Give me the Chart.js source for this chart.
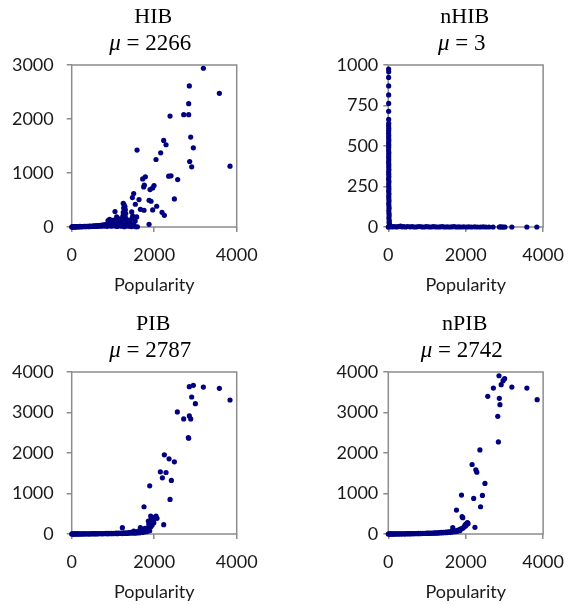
<!DOCTYPE html>
<html>
<head>
<meta charset="utf-8">
<script src="https://cdn.jsdelivr.net/npm/chart.js@4.4.1/dist/chart.umd.min.js"></script>
<style>
  html, body { margin: 0; padding: 0; background: #fff; }
  #wrap { position: relative; width: 576px; height: 605px; overflow: hidden; }
  .cell { position: absolute; width: 288px; height: 300px; }
</style>
</head>
<body>
<div id="wrap">
  <div class="cell" style="left:0;top:0"><canvas id="c0" width="288" height="300"></canvas></div>
  <div class="cell" style="left:288px;top:0"><canvas id="c1" width="288" height="300"></canvas></div>
  <div class="cell" style="left:0;top:307px"><canvas id="c2" width="288" height="300"></canvas></div>
  <div class="cell" style="left:288px;top:307px"><canvas id="c3" width="288" height="300"></canvas></div>
</div>
<script>
const panelNames = ["HIB", "nHIB", "PIB", "nPIB"];
const panelMeans = [2266, 3, 2787, 2742];
const yMaxes = [3000, 1000, 4000, 4000];
const ySteps = [1000, 250, 1000, 1000];
const xMax = 4000;
const xStep = 2000;
const xLabel = "Popularity";

// [popularity, value]
const hibPoints = [
  [0,0],[10,3],[20,0],[30,6],[40,2],[55,1],[70,4],[85,2],[100,3],[120,8],[140,2],[160,5],[180,3],[200,10],
  [220,6],[240,4],[260,9],[280,7],[300,12],[320,5],[340,10],[360,8],[380,14],[400,11],[420,6],[440,15],
  [460,12],[480,9],[500,18],[520,14],[540,20],[560,10],[580,22],[600,16],[620,25],[640,12],[660,28],
  [680,20],[700,32],[720,15],[740,35],[760,24],[780,40],[800,18],[820,45],[840,30],[860,12],[880,55],
  [900,25],[920,70],[940,40],[960,15],[980,90],[1000,30],[1020,60],[1040,20],[1060,110],[1080,45],
  [1100,10],[1120,80],[1140,35],[1160,20],[1180,130],[1200,55],[1220,15],[1240,100],[1260,40],[1280,5],
  [1300,70],[1320,25],[1350,50],[1380,15],[1420,35],[1450,8],[1500,20],[1550,5],
  [880,120],[900,90],[920,140],[950,60],[970,110],[1020,130],[1050,70],[1130,80],[1150,150],
  [1250,440],[1270,410],[1290,380],[1260,350],[1300,320],[1280,300],[1250,270],[1310,250],[1270,230],
  [1240,200],[1300,180],[1260,160],[1330,140],[1220,120],[1290,100],[1340,80],[1360,60],[1400,45],
  [1380,120],[1420,90],[1460,160],[1500,60],[1540,110],
  [1050,285],[1091,186],[1455,279],[1479,204],[1575,186],[1875,50],[1592,5],[1414,19],
  [1503,619],[1471,545],[1632,508],[1875,495],[1923,477],[1543,421],[1665,328],[1753,310],[1963,316],
  [2060,384],[2190,272],[2246,217],[1899,693],[1963,724],[1996,768],[2489,520],[1760,774],[1745,743],
  [1721,891],[1786,929],[2351,941],[2408,947],[2569,879],[2860,1213],[2909,1114],[3838,1127],
  [2044,1250],[2157,1374],[1584,1424],[2949,1467],[2287,1523],[2230,1603],[2885,1665],
  [2384,2055],[2715,2080],[2836,2080],[2836,2284],[3580,2476],[2852,2612],[3192,2940]
];

const nhibPoints = [
  [8,975],[10,958],[8,923],[10,871],[9,815],[10,763],[9,714],[10,664],[11,640],[9,625],[12,610],[10,595],
  [8,580],[11,565],[10,550],[13,535],[9,520],[12,505],[10,490],[8,475],[14,460],[11,445],[10,430],[12,415],
  [9,400],[13,385],[11,370],[15,355],[10,340],[12,325],[14,310],[9,295],[16,280],[11,265],[13,250],[15,235],
  [10,220],[17,205],[12,190],[14,175],[18,160],[11,145],[16,130],[20,115],[13,100],[18,85],[22,70],[15,55],
  [25,40],[20,28],[30,18],[35,10],[40,6],[50,3],[60,2],[0,0],[5,1],
  [80,2],[120,1],[160,3],[200,0],[250,2],[315,5],[350,1],[400,2],[450,0],[500,3],[560,1],[620,2],[680,0],
  [740,1],[800,3],[860,1],[920,0],[980,2],[1040,1],[1100,0],[1160,2],[1220,1],[1280,0],[1340,1],[1400,2],
  [1460,0],[1520,1],[1580,0],[1640,1],[1700,2],[1760,0],[1820,1],[1880,0],[1950,1],[2020,0],[2080,1],
  [2150,0],[2230,1],[2300,0],[2380,0],[2450,1],[2520,0],[2600,0],[2707,0],[2868,0],[2900,1],[2940,0],
  [2973,0],[3014,0],[3192,0],[3580,0],[3838,0]
];

const pibPoints = [
  [0,0],[15,2],[30,0],[50,3],[70,1],[90,2],[110,0],[130,4],[150,1],[175,2],[200,3],[225,0],[250,5],[275,2],
  [300,4],[330,1],[360,6],[390,3],[420,5],[450,2],[480,7],[510,4],[540,8],[570,3],[600,9],[630,5],[660,10],
  [690,6],[720,11],[750,4],[780,12],[810,7],[840,14],[870,5],[900,15],[930,9],[960,16],[990,6],[1020,18],
  [1050,10],[1080,20],[1110,8],[1140,22],[1170,12],[1200,25],[1230,10],[1260,28],[1290,14],[1320,30],
  [1350,12],[1380,35],[1410,18],[1440,40],[1470,22],[1500,45],[1530,20],[1560,55],[1590,25],[1620,70],
  [1650,30],[1680,90],[1710,40],[1740,110],[1770,50],[1800,130],[1830,60],[1860,150],[1890,80],[1920,180],
  [1950,220],[1870,240],[1990,280],[1900,300],[1858,320],[1980,330],[1915,345],[1939,386],[2068,386],
  [2010,410],[1915,443],[2044,443],[2230,230],[1228,156],[1665,156],[1778,140],[1818,74],[1503,74],
  [1753,673],[2384,854],[1891,1190],[2416,1322],[2198,1387],[2287,1519],[2149,1535],[2489,1782],
  [2360,1855],[2246,1954],[2828,2381],[2836,2364],[2715,2841],[2885,2841],[2852,2915],[2561,3013],
  [2998,3218],[3838,3309],[2909,3383],[3580,3596],[3192,3629],[2852,3637],[2949,3670]
];

const npibPoints = [
  [0,0],[20,1],[40,3],[60,0],[80,2],[100,1],[125,3],[150,0],[175,2],[200,4],[230,1],[260,3],[290,5],[320,2],
  [350,4],[380,6],[410,3],[440,5],[470,7],[500,4],[530,8],[560,5],[590,9],[620,6],[650,10],[680,7],[710,12],
  [740,8],[770,13],[800,9],[830,15],[860,10],[890,16],[920,12],[950,18],[980,13],[1010,20],[1040,15],
  [1070,22],[1100,16],[1130,25],[1160,18],[1190,28],[1220,20],[1250,30],[1280,22],[1310,34],[1340,25],
  [1370,38],[1400,28],[1430,42],[1460,32],[1490,48],[1520,36],[1550,55],[1580,40],[1610,62],[1640,45],
  [1665,156],[1700,70],[1730,55],[1760,85],[1790,65],[1820,100],[1850,80],[1858,115],[1880,130],[1923,140],
  [1955,172],[1980,220],[1996,197],[2010,250],[2036,238],[2044,279],[2060,260],[1923,402],[1907,427],
  [2238,164],[1761,591],[2384,673],[2206,878],[2432,952],[1891,961],[2497,1248],[2287,1527],[2262,1585],
  [2165,1716],[2367,2077],[2844,2274],[2828,2906],[2885,3194],[2868,3350],[2569,3399],[3846,3317],
  [3580,3604],[2715,3604],[3192,3629],[2917,3686],[2965,3785],[3006,3834],[2860,3908]
];

const allPoints = [hibPoints, nhibPoints, pibPoints, npibPoints];

const axisGray = "#8c8c8c";
const dotColor = "#000080";
const tickFont = { family: "Lato", size: 18 };
const plainNumber = (v) => String(v);

const plotBox = {
  id: "plotBox",
  beforeDatasetsDraw(chart) {
    const { ctx, chartArea } = chart;
    ctx.save();
    ctx.strokeStyle = axisGray;
    ctx.lineWidth = 1.5;
    ctx.strokeRect(chartArea.left, chartArea.top,
      chartArea.right - chartArea.left, chartArea.bottom - chartArea.top);
    ctx.restore();
  },
};

const panelTitle = {
  id: "panelTitle",
  afterDraw(chart, args, opts) {
    const { ctx, chartArea } = chart;
    const cx = (chartArea.left + chartArea.right) / 2;
    ctx.save();
    ctx.fillStyle = "#000";
    ctx.textBaseline = "alphabetic";
    ctx.textAlign = "center";
    ctx.font = "22px 'Liberation Serif'";
    ctx.fillText(opts.name, cx - 1, 22.5);
    ctx.font = "italic 23px 'Liberation Serif'";
    const muW = ctx.measureText("μ").width;
    ctx.font = "23px 'Liberation Serif'";
    const rest = " = " + opts.mean;
    const restW = ctx.measureText(rest).width;
    const x0 = cx - 4 - (muW + restW) / 2;
    ctx.textAlign = "left";
    ctx.font = "italic 23px 'Liberation Serif'";
    ctx.fillText("μ", x0, 50);
    ctx.font = "23px 'Liberation Serif'";
    ctx.fillText(rest, x0 + muW, 50);
    ctx.restore();
  },
};

function makeChart(i) {
  const isRight = i % 2 === 1;
  const ctx = document.getElementById("c" + i).getContext("2d");
  return new Chart(ctx, {
    type: "scatter",
    data: {
      datasets: [
        {
          data: allPoints[i].map((p) => ({ x: p[0], y: p[1] })),
          backgroundColor: dotColor,
          borderWidth: 0,
          pointRadius: 2.6,
          clip: false,
        },
      ],
    },
    options: {
      responsive: false,
      animation: false,
      events: [],
      layout: { padding: { top: 65, left: 0, bottom: 0, right: isRight ? 22.7 : 51.3 } },
      plugins: {
        legend: { display: false },
        tooltip: { enabled: false },
        panelTitle: { name: panelNames[i], mean: panelMeans[i] },
      },
      scales: {
        x: {
          type: "linear",
          min: 0,
          max: xMax,
          afterFit: (s) => { s.height = 73; },
          ticks: { stepSize: xStep, font: tickFont, color: "#1a1a1a", padding: 12, maxRotation: 0, callback: plainNumber },
          grid: { drawOnChartArea: false, drawTicks: true, tickLength: 5, color: axisGray, lineWidth: 1.5 },
          border: { display: false },
          title: { display: true, text: xLabel, font: { family: "Lato", size: 18 }, color: "#1a1a1a", padding: { top: 0, bottom: 4 } },
        },
        y: {
          type: "linear",
          min: 0,
          max: yMaxes[i],
          afterFit: (s) => { s.width = isRight ? 100.3 : 71.7; },
          ticks: { stepSize: ySteps[i], font: tickFont, color: "#1a1a1a", padding: isRight ? 5 : 13, callback: plainNumber },
          grid: { drawOnChartArea: false, drawTicks: true, tickLength: 5, color: axisGray, lineWidth: 1.5 },
          border: { display: false },
        },
      },
    },
    plugins: [plotBox, panelTitle],
  });
}

[0, 1, 2, 3].forEach(makeChart);
</script>
</body>
</html>
